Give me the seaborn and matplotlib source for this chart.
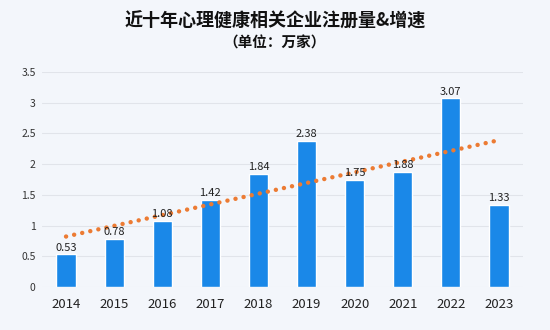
import matplotlib
matplotlib.use("Agg")
import matplotlib.pyplot as plt
import seaborn as sns
import pandas as pd
import numpy as np

years = ["2014", "2015", "2016", "2017", "2018", "2019", "2020", "2021", "2022", "2023"]
counts = [0.53, 0.78, 1.08, 1.42, 1.84, 2.38, 1.75, 1.88, 3.07, 1.33]
yticks = [0, 0.5, 1, 1.5, 2, 2.5, 3, 3.5]
ytick_labels = ["0", "0.5", "1", "1.5", "2", "2.5", "3", "3.5"]
title = "近十年心理健康相关企业注册量&增速"
subtitle = "（单位：万家）"

sns.set_theme(style="white")
plt.rcParams['font.family'] = ['Noto Sans CJK SC', 'DejaVu Sans']

bg = "#F3F6FB"
df = pd.DataFrame({"year": years, "count": counts, "idx": np.arange(len(years))})

fig = plt.figure(figsize=(5.5, 3.3), dpi=100, facecolor=bg)
ax = fig.add_axes([42/550, 1 - 287/330, 481/550, 215/330])
ax.set_facecolor(bg)

sns.barplot(data=df, x="year", y="count", color="#1A88E8", width=0.4,
            saturation=1, ax=ax, zorder=2)
sns.regplot(data=df, x="idx", y="count", ci=None, scatter=False, ax=ax,
            line_kws=dict(color="#EC7B33", linestyle=(0, (0.01, 1.85)), linewidth=3.2,
                          dash_capstyle="round", zorder=3), truncate=True)

for i, v in enumerate(counts):
    ax.text(i, v + 0.03, f"{v:.2f}", ha="center", va="bottom", fontsize=8,
            color="#222222", zorder=4)

ax.set_ylim(0, 3.5)
ax.set_xlim(-0.5, 9.5)
ax.set_yticks(yticks)
ax.set_yticklabels(ytick_labels)
ax.set_xticks(range(len(years)))
ax.set_xticklabels(years)
ax.tick_params(axis="y", labelsize=7.5, colors="#333333", length=0, pad=4.5)
ax.tick_params(axis="x", labelsize=9.5, colors="#222222", length=0, pad=8)
ax.set_xlabel("")
ax.set_ylabel("")
ax.grid(axis="y", color="#E1E4EA", linewidth=0.8, zorder=0)
ax.set_axisbelow(True)
for s in ax.spines.values():
    s.set_visible(False)

fig.text(0.5, 1 - 21/330, title, ha="center", va="center", fontsize=13,
         fontweight="bold", color="#111111")
fig.text(0.5, 1 - 43/330, subtitle, ha="center", va="center", fontsize=10.5,
         fontweight="bold", color="#111111")

fig.savefig("out.png", dpi=100, facecolor=bg)
